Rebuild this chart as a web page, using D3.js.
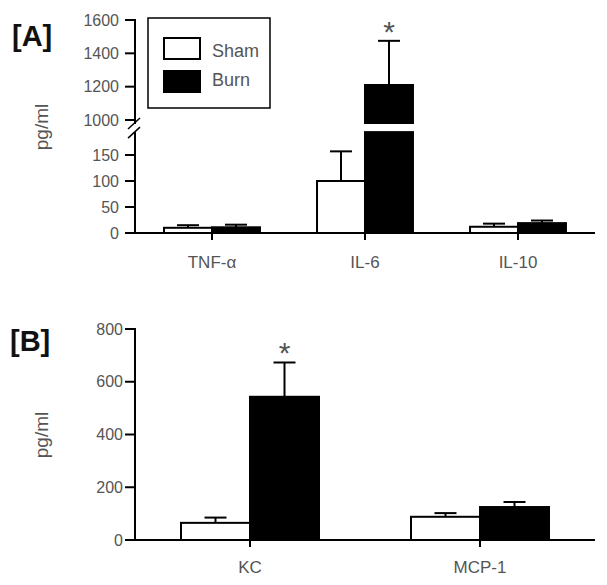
<!DOCTYPE html>
<html>
<head>
<meta charset="utf-8">
<script src="https://cdn.jsdelivr.net/npm/d3@7/dist/d3.min.js"></script>
<style>
  body { margin: 0; background: #fff; }
  text { font-family: "Liberation Sans", Arial, sans-serif; }
  .tick-label, .cat-label, .y-title, .legend-text, .star { fill: #555; }
</style>
</head>
<body>
<div id="chart"></div>
<script>
// panel A data
const categoriesA = ['TNF-\u03b1', 'IL-6', 'IL-10'];
const shamA = [10, 100, 12];
const shamErrA = [5, 57, 6];
const burnA = [11, 1210, 19];
const burnErrA = [5, 265, 5];
const lowTicksA = [0, 50, 100, 150];
const highTicksA = [1000, 1200, 1400, 1600];

// panel B data
const categoriesB = ['KC', 'MCP-1'];
const shamB = [65, 88];
const shamErrB = [20, 14];
const burnB = [543, 125];
const burnErrB = [130, 19];
const ticksB = [0, 200, 400, 600, 800];

const groups = ['Sham', 'Burn'];
const starsA = ['IL-6'];
const starsB = ['KC'];

const width = 607, height = 585;
const axisX = 135, axisRight = 595;
const capW = 22;

const svg = d3.select('#chart').append('svg')
  .attr('width', width)
  .attr('height', height);

const fillOf = (g) => (g === 'Sham' ? '#fff' : '#000');

// ---------- Panel A (broken axis) ----------
const yLow = d3.scaleLinear().domain([0, 150]).range([233, 155]);
const yHigh = d3.scaleLinear().domain([1000, 1600]).range([120, 20]);
const lowMax = 194, highMin = 982;
const yA = (v) => (v <= lowMax ? yLow(v) : yHigh(v));

const xA = d3.scaleBand().domain(categoriesA)
  .range([axisX + 0.5, axisRight - 0.5])
  .paddingInner(0.373).paddingOuter(0.1865);
const xA1 = d3.scaleBand().domain(groups).range([0, xA.bandwidth()]);

const rowsA = categoriesA.map((c, i) => ({
  cat: c,
  vals: [
    { g: 'Sham', v: shamA[i], e: shamErrA[i] },
    { g: 'Burn', v: burnA[i], e: burnErrA[i] },
  ],
}));

const gA = svg.append('g').attr('class', 'panel-a');

rowsA.forEach((row) => {
  row.vals.forEach((d) => {
    const x0 = xA(row.cat) + xA1(d.g);
    const w = xA1.bandwidth();
    const cx = x0 + w / 2;
    const top = yA(d.v + d.e);
    // error bar (drawn first so bar covers stem)
    gA.append('line').attr('x1', cx).attr('x2', cx)
      .attr('y1', yA(d.v)).attr('y2', top)
      .attr('stroke', '#000').attr('stroke-width', 2);
    gA.append('line').attr('x1', cx - capW / 2).attr('x2', cx + capW / 2)
      .attr('y1', top).attr('y2', top)
      .attr('stroke', '#000').attr('stroke-width', 2);
    if (d.v > lowMax) {
      gA.append('rect').attr('x', x0).attr('width', w)
        .attr('y', yLow(lowMax)).attr('height', yLow(0) - yLow(lowMax))
        .attr('fill', fillOf(d.g)).attr('stroke', '#000').attr('stroke-width', 2);
      gA.append('rect').attr('x', x0).attr('width', w)
        .attr('y', yHigh(d.v)).attr('height', yHigh(highMin) - yHigh(d.v))
        .attr('fill', fillOf(d.g)).attr('stroke', '#000').attr('stroke-width', 2);
    } else {
      gA.append('rect').attr('x', x0).attr('width', w)
        .attr('y', yA(d.v)).attr('height', yA(0) - yA(d.v))
        .attr('fill', fillOf(d.g)).attr('stroke', '#000').attr('stroke-width', 2);
    }
  });
});

// y axis segments
gA.append('line').attr('x1', axisX).attr('x2', axisX)
  .attr('y1', yHigh(1600) - 1).attr('y2', yHigh(highMin) + 1)
  .attr('stroke', '#000').attr('stroke-width', 2);
gA.append('line').attr('x1', axisX).attr('x2', axisX)
  .attr('y1', yLow(lowMax)).attr('y2', yLow(0))
  .attr('stroke', '#000').attr('stroke-width', 2);
// break marks
[yHigh(highMin) + 1, yLow(lowMax) + 1].forEach((yy) => {
  gA.append('line').attr('x1', axisX - 7).attr('x2', axisX + 5)
    .attr('y1', yy + 5).attr('y2', yy - 6)
    .attr('stroke', '#000').attr('stroke-width', 1.5);
});

const tickRows = [...lowTicksA.map((t) => ({ t, y: yLow(t) })),
  ...highTicksA.map((t) => ({ t, y: yHigh(t) }))];
tickRows.forEach((d) => {
  gA.append('line').attr('x1', axisX - 10).attr('x2', axisX)
    .attr('y1', d.y).attr('y2', d.y)
    .attr('stroke', '#000').attr('stroke-width', 2);
  gA.append('text').attr('class', 'tick-label')
    .attr('x', axisX - 16).attr('y', d.y).attr('dy', '0.35em')
    .attr('text-anchor', 'end').attr('font-size', 16)
    .text(d.t);
});

// x axis
gA.append('line').attr('x1', axisX - 10).attr('x2', axisRight)
  .attr('y1', yLow(0)).attr('y2', yLow(0))
  .attr('stroke', '#000').attr('stroke-width', 2);
categoriesA.forEach((c) => {
  const cx = xA(c) + xA.bandwidth() / 2;
  gA.append('line').attr('x1', cx).attr('x2', cx)
    .attr('y1', yLow(0)).attr('y2', yLow(0) + 7)
    .attr('stroke', '#000').attr('stroke-width', 2);
  gA.append('text').attr('class', 'cat-label')
    .attr('x', cx).attr('y', 268).attr('text-anchor', 'middle')
    .attr('font-size', 17).text(c);
});

starsA.forEach((c) => {
  const i = categoriesA.indexOf(c);
  const cx = xA(c) + xA1('Burn') + xA1.bandwidth() / 2;
  gA.append('text').attr('class', 'star')
    .attr('x', cx).attr('y', yA(burnA[i] + burnErrA[i]) + 1)
    .attr('text-anchor', 'middle').attr('font-size', 30).text('*');
});

gA.append('text').attr('class', 'y-title')
  .attr('transform', 'translate(48,127) rotate(-90)')
  .attr('text-anchor', 'middle').attr('font-size', 19).text('pg/ml');

gA.append('text').attr('x', 12).attr('y', 46)
  .attr('font-size', 29).attr('font-weight', 'bold').attr('fill', '#111')
  .text('[A]');

// legend
const legend = gA.append('g').attr('class', 'legend');
legend.append('rect').attr('x', 148).attr('y', 18).attr('width', 122).attr('height', 90)
  .attr('fill', '#fff').attr('stroke', '#000').attr('stroke-width', 1.5);
groups.forEach((g, i) => {
  legend.append('rect').attr('x', 164).attr('y', 38 + i * 33)
    .attr('width', 36).attr('height', 21)
    .attr('fill', fillOf(g)).attr('stroke', '#000').attr('stroke-width', 2);
  legend.append('text').attr('class', 'legend-text')
    .attr('x', 212).attr('y', 57 + i * 29).attr('font-size', 18).text(g);
});

// ---------- Panel B ----------
const yB = d3.scaleLinear().domain([0, 800]).range([540, 329]);
const xB = d3.scaleBand().domain(categoriesB)
  .range([axisX, axisRight])
  .paddingInner(0.4).paddingOuter(0.2);
const xB1 = d3.scaleBand().domain(groups).range([0, xB.bandwidth()]);

const gB = svg.append('g').attr('class', 'panel-b');

categoriesB.forEach((c, i) => {
  const vals = [
    { g: 'Sham', v: shamB[i], e: shamErrB[i] },
    { g: 'Burn', v: burnB[i], e: burnErrB[i] },
  ];
  vals.forEach((d) => {
    const x0 = xB(c) + xB1(d.g);
    const w = xB1.bandwidth();
    const cx = x0 + w / 2;
    const top = yB(d.v + d.e);
    gB.append('line').attr('x1', cx).attr('x2', cx)
      .attr('y1', yB(d.v)).attr('y2', top)
      .attr('stroke', '#000').attr('stroke-width', 2);
    gB.append('line').attr('x1', cx - capW / 2).attr('x2', cx + capW / 2)
      .attr('y1', top).attr('y2', top)
      .attr('stroke', '#000').attr('stroke-width', 2);
    gB.append('rect').attr('x', x0).attr('width', w)
      .attr('y', yB(d.v)).attr('height', yB(0) - yB(d.v))
      .attr('fill', fillOf(d.g)).attr('stroke', '#000').attr('stroke-width', 2);
  });
});

gB.append('line').attr('x1', axisX).attr('x2', axisX)
  .attr('y1', yB(800) - 1).attr('y2', yB(0))
  .attr('stroke', '#000').attr('stroke-width', 2);
ticksB.forEach((t) => {
  gB.append('line').attr('x1', axisX - 10).attr('x2', axisX)
    .attr('y1', yB(t)).attr('y2', yB(t))
    .attr('stroke', '#000').attr('stroke-width', 2);
  gB.append('text').attr('class', 'tick-label')
    .attr('x', axisX - 12).attr('y', yB(t)).attr('dy', '0.35em')
    .attr('text-anchor', 'end').attr('font-size', 16).text(t);
});

gB.append('line').attr('x1', axisX - 10).attr('x2', axisRight)
  .attr('y1', yB(0)).attr('y2', yB(0))
  .attr('stroke', '#000').attr('stroke-width', 2);
categoriesB.forEach((c) => {
  const cx = xB(c) + xB.bandwidth() / 2;
  gB.append('line').attr('x1', cx).attr('x2', cx)
    .attr('y1', yB(0)).attr('y2', yB(0) + 7)
    .attr('stroke', '#000').attr('stroke-width', 2);
  gB.append('text').attr('class', 'cat-label')
    .attr('x', cx).attr('y', 573).attr('text-anchor', 'middle')
    .attr('font-size', 17).text(c);
});

starsB.forEach((c) => {
  const i = categoriesB.indexOf(c);
  const cx = xB(c) + xB1('Burn') + xB1.bandwidth() / 2;
  gB.append('text').attr('class', 'star')
    .attr('x', cx).attr('y', yB(burnB[i] + burnErrB[i]) + 1)
    .attr('text-anchor', 'middle').attr('font-size', 30).text('*');
});

gB.append('text').attr('class', 'y-title')
  .attr('transform', 'translate(48,435) rotate(-90)')
  .attr('text-anchor', 'middle').attr('font-size', 19).text('pg/ml');

gB.append('text').attr('x', 10).attr('y', 351)
  .attr('font-size', 29).attr('font-weight', 'bold').attr('fill', '#111')
  .text('[B]');
</script>
</body>
</html>
